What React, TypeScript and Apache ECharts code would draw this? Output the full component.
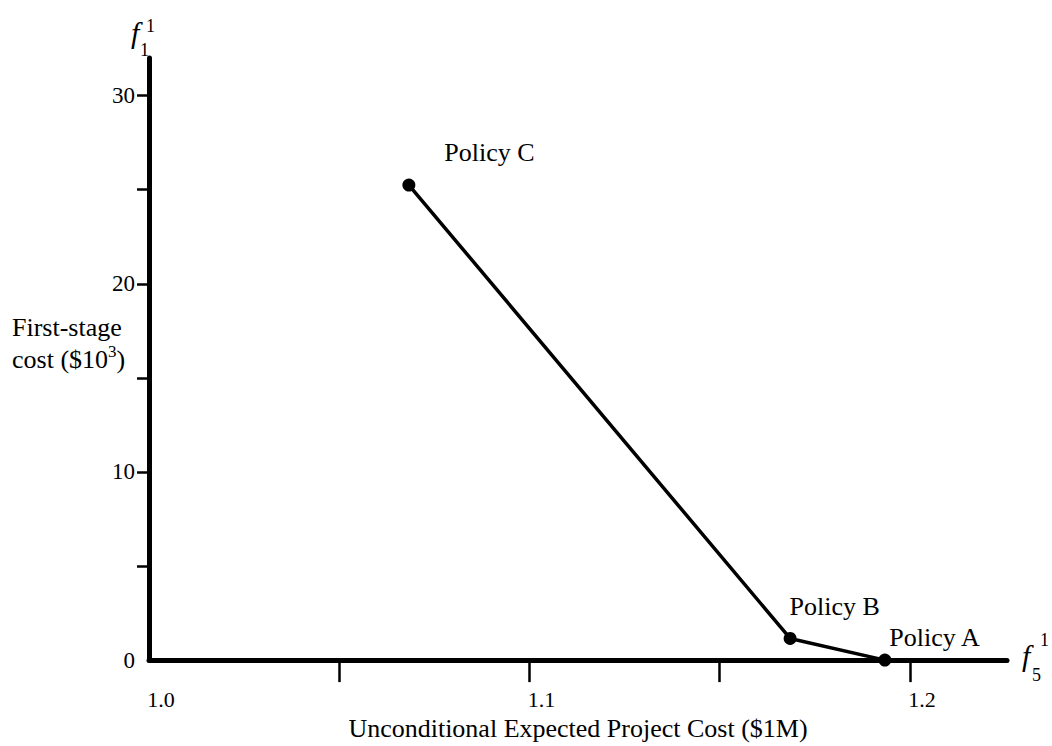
import React, { useEffect, useRef } from "react";
import * as echarts from "echarts";

// ---- data ----
const policyNames = ["Policy C", "Policy B", "Policy A"];
const expectedProjectCost = [1.0683, 1.1685, 1.1934]; // $1M
const firstStageCost = [25.25, 1.15, 0]; // $10^3
const xTickValues = [1.05, 1.1, 1.15, 1.2];
const xLabelValues = [1.0, 1.1, 1.2];
const yTickValues = [5, 10, 15, 20, 25, 30];
const yLabelValues = [0, 10, 20, 30];

const SERIF = "'Liberation Serif', 'Times New Roman', serif";

// label placement per policy (style, not data)
const labelPlacement: Record<string, [number, number]> = {
  "Policy C": [42, -26],
  "Policy B": [6, -25],
  "Policy A": [11, -16],
};

export default function App() {
  const ref = useRef<HTMLDivElement>(null);

  useEffect(() => {
    if (!ref.current) return;
    const chart = echarts.init(ref.current, null, { renderer: "svg" });

    const seriesData = policyNames.map((name, i) => ({
      name,
      value: [expectedProjectCost[i], firstStageCost[i]],
      label: {
        show: true,
        formatter: name,
        position: labelPlacement[name],
        align: "left",
        verticalAlign: "middle",
      },
    }));

    const txt = (
      text: string,
      x: number,
      y: number,
      font: string,
      align: string = "left"
    ) => ({
      type: "text",
      silent: true,
      style: {
        text,
        x,
        y,
        font,
        fill: "#000",
        textAlign: align,
        textVerticalAlign: "middle",
      },
    });

    const option: any = {
      animation: false,
      backgroundColor: "#fff",
      grid: { left: 149, right: 45, top: 58, bottom: 80, containLabel: false },
      xAxis: {
        type: "value",
        min: 1.0,
        max: 1.2255,
        interval: 0.05,
        name: "Unconditional Expected Project Cost ($1M)",
        nameLocation: "middle",
        nameGap: 40,
        nameTextStyle: { fontFamily: SERIF, fontSize: 26, color: "#000" },
        axisLine: { show: true, lineStyle: { color: "#000", width: 5 } },
        axisTick: {
          show: true,
          inside: false,
          length: 22,
          customValues: xTickValues,
          lineStyle: { color: "#000", width: 2.5 },
        },
        axisLabel: {
          show: true,
          customValues: xLabelValues,
          formatter: (v: number) => v.toFixed(1),
          margin: 28,
          padding: [0, 0, 0, 24],
          fontFamily: SERIF,
          fontSize: 22,
          color: "#000",
        },
        splitLine: { show: false },
      },
      yAxis: {
        type: "value",
        min: 0,
        max: 32,
        interval: 5,
        axisLine: { show: true, lineStyle: { color: "#000", width: 5 } },
        axisTick: {
          show: true,
          inside: false,
          length: 12,
          customValues: yTickValues,
          lineStyle: { color: "#000", width: 2.5 },
        },
        axisLabel: {
          show: true,
          customValues: yLabelValues,
          formatter: (v: number) => String(v),
          margin: 14,
          fontFamily: SERIF,
          fontSize: 23,
          color: "#000",
        },
        splitLine: { show: false },
      },
      series: [
        {
          type: "line",
          data: seriesData,
          symbol: "circle",
          symbolSize: 13,
          showAllSymbol: true,
          lineStyle: { color: "#000", width: 3.5 },
          itemStyle: { color: "#000" },
          label: {
            fontFamily: SERIF,
            fontSize: 26,
            color: "#000",
          },
          z: 3,
        },
      ],
      graphic: [
        // y-axis variable symbol f_1^1
        txt("f", 131, 32, `italic 30px ${SERIF}`),
        txt("1", 146, 26, `18px ${SERIF}`),
        txt("1", 140, 50, `18px ${SERIF}`),
        // x-axis variable symbol f_5^1
        txt("f", 1022, 655, `italic 30px ${SERIF}`),
        txt("1", 1040, 640, `18px ${SERIF}`),
        txt("5", 1032, 675, `18px ${SERIF}`),
        // y-axis title (two lines, superscript 3)
        {
          type: "text",
          silent: true,
          style: {
            text: "{a|First-stage}\n{a|cost ($10}{sup|3}{a|)}",
            x: 12,
            y: 343,
            fill: "#000",
            textAlign: "left",
            textVerticalAlign: "middle",
            rich: {
              a: { fontFamily: SERIF, fontSize: 26, lineHeight: 32, fill: "#000" },
              sup: {
                fontFamily: SERIF,
                fontSize: 17,
                lineHeight: 32,
                verticalAlign: "top",
                fill: "#000",
              },
            },
          },
        },
      ],
    };

    chart.setOption(option);
    return () => chart.dispose();
  }, []);

  return (
    <div
      ref={ref}
      style={{ position: "absolute", left: 0, top: 0, width: 1052, height: 746 }}
    />
  );
}
